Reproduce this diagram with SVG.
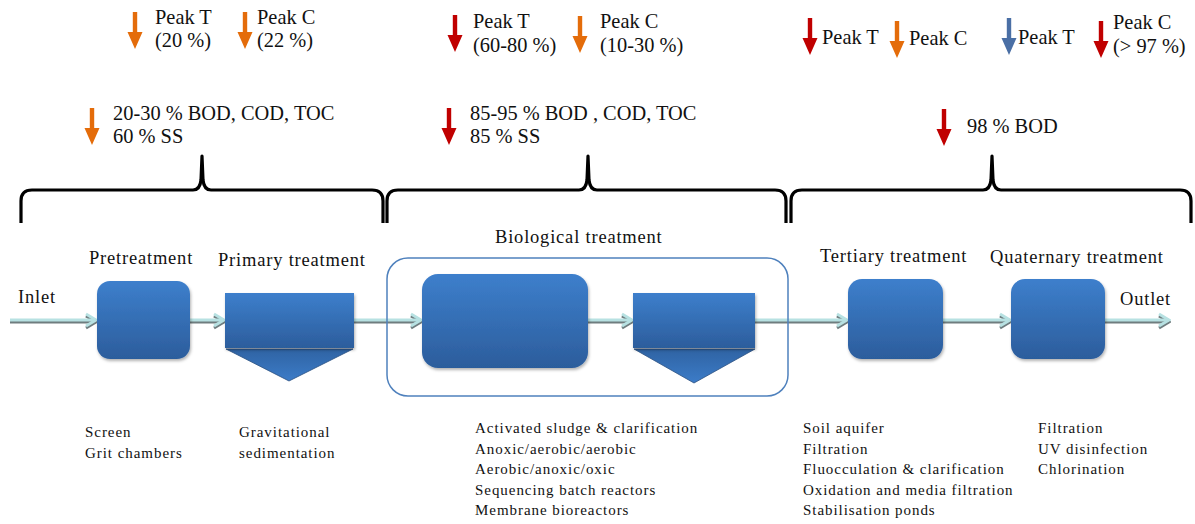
<svg xmlns="http://www.w3.org/2000/svg" width="1195" height="524" viewBox="0 0 1195 524">
<style>
  text { font-family: "Liberation Serif", "Times New Roman", serif; fill: #111; }
  .top { font-size: 20.4px; }
  .lbl { font-size: 18.5px; letter-spacing: 0.8px; }
  .lst { font-size: 15px; letter-spacing: 0.95px; }
  .brace { fill: none; stroke: #000; stroke-width: 3.2; stroke-linejoin: round; stroke-linecap: butt; }
  .box { fill: url(#gBox); filter: url(#sh); }
  .tri { fill: url(#gTri); stroke: #2a4f80; stroke-width: 0.8; }
  .cont { fill: none; stroke: #4f81bd; stroke-width: 1.5; }
  .cDark { fill: none; stroke: #6f7d7f; stroke-width: 3; marker-end: url(#chevD); }
  .cLight { fill: none; stroke: #b7e1e2; stroke-width: 3; marker-end: url(#chevL); }
</style>
<defs>
  <linearGradient id="gBox" x1="0" y1="0" x2="0" y2="1">
    <stop offset="0" stop-color="#3d7fcc"/>
    <stop offset="1" stop-color="#2c5d9c"/>
  </linearGradient>
  <linearGradient id="gTri" x1="0" y1="0" x2="0" y2="1">
    <stop offset="0" stop-color="#2f63a3"/>
    <stop offset="1" stop-color="#3c7cc8"/>
  </linearGradient>
  <filter id="sh" x="-10%" y="-10%" width="125%" height="125%">
    <feDropShadow dx="1" dy="2" stdDeviation="1.5" flood-color="#000" flood-opacity="0.3"/>
  </filter>
  <path id="arr" d="M-2.2,0 L2.2,0 L2.2,20 L7.5,20 L0,37 L-7.5,20 L-2.2,20 Z"/>
  <marker id="chevL" markerUnits="userSpaceOnUse" viewBox="0 0 14 16" refX="12" refY="8" markerWidth="14" markerHeight="16" orient="auto">
    <path d="M2,2 L12,8 L2,14" fill="none" stroke="#b7e1e2" stroke-width="3" stroke-linejoin="miter"/>
  </marker>
  <marker id="chevD" markerUnits="userSpaceOnUse" viewBox="0 0 14 16" refX="12" refY="8" markerWidth="14" markerHeight="16" orient="auto">
    <path d="M2,2 L12,8 L2,14" fill="none" stroke="#6f7d7f" stroke-width="3" stroke-linejoin="miter"/>
  </marker>
</defs>
<rect width="1195" height="524" fill="#fff"/>

<!-- Top indicators -->
<g id="indicators">
  <use href="#arr" x="135" y="12" fill="#e46c0a"/>
  <text class="top" x="155" y="24">Peak T</text>
  <text class="top" x="155" y="47">(20 %)</text>
  <use href="#arr" x="245" y="12" fill="#e46c0a"/>
  <text class="top" x="257" y="24">Peak C</text>
  <text class="top" x="257" y="47">(22 %)</text>
  <use href="#arr" x="92" y="108" fill="#e46c0a"/>
  <text class="top" x="113" y="120">20-30 % BOD, COD, TOC</text>
  <text class="top" x="113" y="143">60 % SS</text>

  <use href="#arr" x="455" y="15" fill="#c00000"/>
  <text class="top" x="473" y="28">Peak T</text>
  <text class="top" x="473" y="52">(60-80 %)</text>
  <use href="#arr" x="580" y="16" fill="#e46c0a"/>
  <text class="top" x="600" y="28">Peak C</text>
  <text class="top" x="600" y="52">(10-30 %)</text>
  <use href="#arr" x="449" y="108" fill="#c00000"/>
  <text class="top" x="470" y="120">85-95 % BOD , COD, TOC</text>
  <text class="top" x="470" y="143">85 % SS</text>

  <use href="#arr" x="810" y="18" fill="#c00000"/>
  <text class="top" x="822" y="44">Peak T</text>
  <use href="#arr" x="897" y="21" fill="#e46c0a"/>
  <text class="top" x="909" y="45">Peak C</text>
  <use href="#arr" x="1009" y="18" fill="#4a6fa5"/>
  <text class="top" x="1018" y="44">Peak T</text>
  <use href="#arr" x="1101" y="21" fill="#c00000"/>
  <text class="top" x="1113" y="29">Peak C</text>
  <text class="top" x="1113" y="53">(&gt; 97 %)</text>
  <use href="#arr" x="944" y="109" fill="#c00000"/>
  <text class="top" x="967" y="133">98 % BOD</text>
</g>

<!-- Braces -->
<g id="braces">
  <path class="brace" d="M21,223 L21,201 Q21,190 32,190 L193,190 Q200,190 201,180 L202,156 L203,180 Q204,190 211,190 L372,190 Q383,190 383,201 L383,223"/>
  <path class="brace" d="M387,223 L387,201 Q387,190 398,190 L579,190 Q586,190 587,180 L588,156 L589,180 Q590,190 597,190 L775,190 Q786,190 786,201 L786,223"/>
  <path class="brace" d="M791,223 L791,201 Q791,190 802,190 L983,190 Q990,190 991,180 L992,156 L993,180 Q994,190 1001,190 L1180,190 Q1191,190 1191,201 L1191,223"/>
</g>

<!-- Connectors -->
<g id="connectors">
  <path class="cDark" d="M10,322 L96,322"/>
  <path class="cLight" d="M10,320 L96,320"/>
  <path class="cDark" d="M190,322 L224,322"/>
  <path class="cLight" d="M190,320 L224,320"/>
  <path class="cDark" d="M354,322 L421,322"/>
  <path class="cLight" d="M354,320 L421,320"/>
  <path class="cDark" d="M588,322 L632,322"/>
  <path class="cLight" d="M588,320 L632,320"/>
  <path class="cDark" d="M755,322 L847,322"/>
  <path class="cLight" d="M755,320 L847,320"/>
  <path class="cDark" d="M943,322 L1010,322"/>
  <path class="cLight" d="M943,320 L1010,320"/>
  <path class="cDark" d="M1105,322 L1169,322"/>
  <path class="cLight" d="M1105,320 L1169,320"/>
</g>

<g id="inlet"><text class="lbl" x="18" y="303">Inlet</text></g>
<g id="outlet"><text class="lbl" x="1120" y="305">Outlet</text></g>

<g id="pretreatment">
  <text class="lbl" x="89" y="264">Pretreatment</text>
  <rect class="box" x="97" y="281" width="93" height="78" rx="13"/>
  <text class="lst" x="85" y="437">Screen</text>
  <text class="lst" x="85" y="458">Grit chambers</text>
</g>

<g id="primary">
  <text class="lbl" x="218" y="266">Primary treatment</text>
  <polygon class="tri" points="226,349 353,349 289,381"/>
  <rect class="box" x="225" y="293" width="129" height="55"/>
  <text class="lst" x="239" y="437">Gravitational</text>
  <text class="lst" x="239" y="458">sedimentation</text>
</g>

<g id="biological">
  <text class="lbl" x="495" y="243">Biological treatment</text>
  <rect class="cont" x="387" y="258" width="401" height="138" rx="21"/>
  <rect class="box" x="422" y="274" width="166" height="94" rx="16"/>
  <polygon class="tri" points="634,349 755,349 694,383"/>
  <rect class="box" x="633" y="293" width="122" height="55"/>
  <text class="lst" x="475" y="433">Activated sludge &amp; clarification</text>
  <text class="lst" x="475" y="454">Anoxic/aerobic/aerobic</text>
  <text class="lst" x="475" y="474">Aerobic/anoxic/oxic</text>
  <text class="lst" x="475" y="495">Sequencing batch reactors</text>
  <text class="lst" x="475" y="515">Membrane bioreactors</text>
</g>

<g id="tertiary">
  <text class="lbl" x="820" y="262">Tertiary treatment</text>
  <rect class="box" x="848" y="279" width="95" height="80" rx="14"/>
  <text class="lst" x="803" y="433">Soil aquifer</text>
  <text class="lst" x="803" y="454">Filtration</text>
  <text class="lst" x="803" y="474">Fluocculation &amp; clarification</text>
  <text class="lst" x="803" y="495">Oxidation and media filtration</text>
  <text class="lst" x="803" y="515">Stabilisation ponds</text>
</g>

<g id="quaternary">
  <text class="lbl" x="990" y="263">Quaternary treatment</text>
  <rect class="box" x="1011" y="279" width="94" height="80" rx="14"/>
  <text class="lst" x="1038" y="433">Filtration</text>
  <text class="lst" x="1038" y="454">UV disinfection</text>
  <text class="lst" x="1038" y="474">Chlorination</text>
</g>
</svg>
